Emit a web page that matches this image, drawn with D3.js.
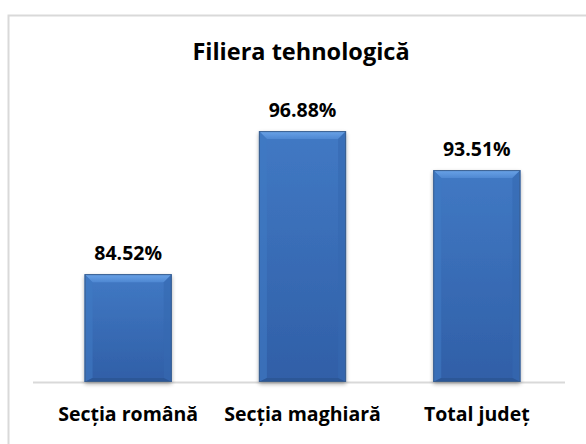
<!DOCTYPE html>
<html>
<head>
<meta charset="utf-8">
<script src="https://cdn.jsdelivr.net/npm/d3@7"></script>
<style>
  html, body { margin: 0; padding: 0; background: #fff; }
  svg { display: block; }
  text { font-family: "Open Sans", "Liberation Sans", sans-serif; font-weight: bold; fill: #000; }
</style>
</head>
<body>
<svg id="chart" width="586" height="444"></svg>
<script>
// Chart data
const title = "Filiera tehnologică";
const categories = ["Secția română", "Secția maghiară", "Total județ"];
const values = [84.52, 96.88, 93.51];
const valueLabels = ["84.52%", "96.88%", "93.51%"];

const W = 586, H = 444;
const svg = d3.select("#chart");

// Chart frame (runs off the right and bottom edges)
svg.append("rect")
  .attr("x", 8.5).attr("y", 15.5)
  .attr("width", 600).attr("height", 460)
  .attr("fill", "#fff")
  .attr("stroke", "#d9d9d9").attr("stroke-width", 2);

// Plot area
const plot = { left: 37, right: 565, top: 95, bottom: 382 };

const x = d3.scaleBand()
  .domain(categories)
  .range([plot.left + 4, plot.right - 1])
  .paddingInner(0.5)
  .paddingOuter(0.25);

const y = d3.scaleLinear()
  .domain([75.2, 100])
  .range([plot.bottom, plot.top]);

const defs = svg.append("defs");

// Face gradient
const face = defs.append("linearGradient").attr("id", "face")
  .attr("x1", 0).attr("y1", 0).attr("x2", 0).attr("y2", 1);
face.append("stop").attr("offset", "0%").attr("stop-color", "#4179c4");
face.append("stop").attr("offset", "100%").attr("stop-color", "#305fa7");

const topBevel = defs.append("linearGradient").attr("id", "topBevel")
  .attr("x1", 0).attr("y1", 0).attr("x2", 0).attr("y2", 1);
topBevel.append("stop").attr("offset", "0%").attr("stop-color", "#6aa3e8");
topBevel.append("stop").attr("offset", "100%").attr("stop-color", "#4f88d2");

const shadow = defs.append("filter").attr("id", "shadow")
  .attr("x", "-20%").attr("y", "-20%").attr("width", "140%").attr("height", "140%");
shadow.append("feGaussianBlur").attr("in", "SourceAlpha").attr("stdDeviation", 2);
shadow.append("feOffset").attr("dx", 0).attr("dy", 2).attr("result", "b");
shadow.append("feComponentTransfer").append("feFuncA").attr("type", "linear").attr("slope", 0.35);
const merge = shadow.append("feMerge");
merge.append("feMergeNode");
merge.append("feMergeNode").attr("in", "SourceGraphic");

// Category axis line
svg.append("line")
  .attr("x1", plot.left - 4).attr("x2", plot.right)
  .attr("y1", plot.bottom + 0.5).attr("y2", plot.bottom + 0.5)
  .attr("stroke", "#d9d9d9").attr("stroke-width", 2);

// Bars with bevelled edges
const bev = 8;
const bars = svg.append("g").selectAll("g.bar")
  .data(values)
  .join("g").attr("class", "bar");

bars.each(function(d, i) {
  const g = d3.select(this);
  const x0 = x(categories[i]);
  const bw = x.bandwidth();
  const x1 = x0 + bw;
  const yt = y(d);
  const yb = y.range()[0];

  g.append("rect")
    .attr("x", x0).attr("y", yt).attr("width", bw).attr("height", yb - yt)
    .attr("fill", "url(#face)")
    .attr("filter", "url(#shadow)");

  // top bevel
  g.append("path")
    .attr("d", `M${x0},${yt} L${x1},${yt} L${x1 - bev},${yt + bev} L${x0 + bev},${yt + bev} Z`)
    .attr("fill", "url(#topBevel)");
  // left bevel
  g.append("path")
    .attr("d", `M${x0},${yt} L${x0 + bev},${yt + bev} L${x0 + bev},${yb - bev / 2} L${x0},${yb} Z`)
    .attr("fill", "#4079c3").attr("opacity", 0.6);
  // right bevel
  g.append("path")
    .attr("d", `M${x1},${yt} L${x1 - bev},${yt + bev} L${x1 - bev},${yb - bev / 2} L${x1},${yb} Z`)
    .attr("fill", "#3669b1").attr("opacity", 0.6);
  // bottom bevel
  g.append("path")
    .attr("d", `M${x0},${yb} L${x0 + bev},${yb - bev / 2} L${x1 - bev},${yb - bev / 2} L${x1},${yb} Z`)
    .attr("fill", "#2c5797");

  g.append("rect")
    .attr("x", x0 + 0.5).attr("y", yt + 0.5).attr("width", bw - 1).attr("height", yb - yt - 1)
    .attr("fill", "none").attr("stroke", "#3b5f8e").attr("stroke-width", 1);
});

// Value labels
svg.append("g").selectAll("text")
  .data(values)
  .join("text")
  .attr("x", (d, i) => x(categories[i]) + x.bandwidth() / 2)
  .attr("y", d => y(d) - 14)
  .attr("text-anchor", "middle")
  .attr("font-size", 19.5)
  .text((d, i) => valueLabels[i]);

// Category labels
svg.append("g").selectAll("text")
  .data(categories)
  .join("text")
  .attr("x", d => x(d) + x.bandwidth() / 2)
  .attr("y", 421)
  .attr("text-anchor", "middle")
  .attr("font-size", 19.5)
  .text(d => d);

// Title
svg.append("text")
  .attr("x", 301).attr("y", 60)
  .attr("text-anchor", "middle")
  .attr("font-size", 23.5)
  .text(title);
</script>
</body>
</html>
